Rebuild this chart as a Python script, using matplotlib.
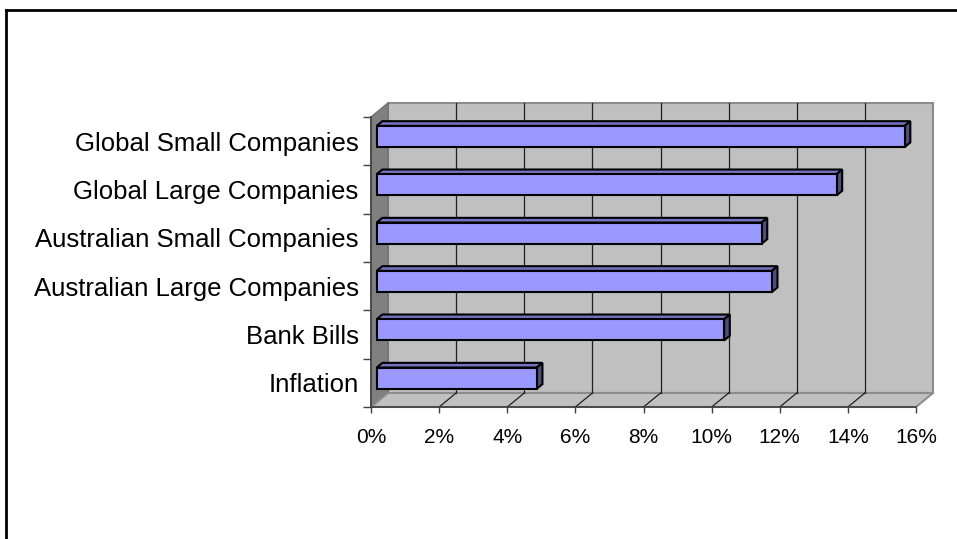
import matplotlib.pyplot as plt
from matplotlib.patches import Polygon
from matplotlib.lines import Line2D

plt.rcParams['font.family'] = ['Liberation Sans', 'DejaVu Sans']

# Данные (снизу вверх)
categories = ['Inflation', 'Bank Bills', 'Australian Large Companies',
              'Australian Small Companies', 'Global Large Companies',
              'Global Small Companies']
values = [4.7, 10.2, 11.6, 11.3, 13.5, 15.5]
x_ticks = [0, 2, 4, 6, 8, 10, 12, 14, 16]
x_tick_labels = ['%d%%' % t for t in x_ticks]

# Глубина псевдо-3D (в единицах данных)
DX, DY = 0.5, 0.29
f1, f2 = 1 / 3, 2 / 3
bar_h = 0.44

face_col = '#9999ff'
top_col = '#7373bf'
side_col = '#4d4d80'
wall_col = '#c0c0c0'
lwall_col = '#808080'

W, H = 957, 539
fig = plt.figure(figsize=(W / 100, H / 100), dpi=100)
ax = fig.add_axes([371 / W, (H - 407) / H, (916 - 371) / W, (407 - 117) / H])
ax.set_facecolor('none')

xmax = x_ticks[-1]
y0, y1 = -0.5, len(categories) - 0.5
ax.set_xlim(0, xmax)
ax.set_ylim(y0, y1)

# Задняя стенка
ax.add_patch(Polygon([(DX, y0 + DY), (xmax + DX, y0 + DY), (xmax + DX, y1 + DY), (DX, y1 + DY)],
                     closed=True, facecolor=wall_col, edgecolor='#8c8c8c', lw=1.5,
                     clip_on=False, zorder=0))
# Левая стенка
ax.add_patch(Polygon([(0, y0), (0, y1), (DX, y1 + DY), (DX, y0 + DY)],
                     closed=True, facecolor=lwall_col, edgecolor='#707070', lw=1,
                     clip_on=False, zorder=1))
# Пол
ax.add_patch(Polygon([(0, y0), (xmax, y0), (xmax + DX, y0 + DY), (DX, y0 + DY)],
                     closed=True, facecolor=wall_col, edgecolor='#8c8c8c', lw=1.5,
                     clip_on=False, zorder=1))

# Сетка на стенке и на полу
for t in x_ticks[1:-1]:
    ax.plot([t + DX, t + DX], [y0 + DY, y1 + DY], color='#202020', lw=0.9,
            clip_on=False, zorder=2)
    ax.plot([t, t + DX], [y0, y0 + DY], color='#202020', lw=0.9,
            clip_on=False, zorder=2)

# Столбцы
for i, v in enumerate(values):
    b = i - bar_h / 2 + f1 * DY
    tp = i + bar_h / 2 + f1 * DY
    x0 = f1 * DX
    xe = v + f1 * DX
    d_x = (f2 - f1) * DX
    d_y = (f2 - f1) * DY
    ax.add_patch(Polygon([(x0, tp), (xe, tp), (xe + d_x, tp + d_y), (x0 + d_x, tp + d_y)],
                         closed=True, facecolor=top_col, edgecolor='black', lw=1.5,
                         clip_on=False, zorder=3))
    ax.add_patch(Polygon([(xe, b), (xe, tp), (xe + d_x, tp + d_y), (xe + d_x, b + d_y)],
                         closed=True, facecolor=side_col, edgecolor='black', lw=1.5,
                         clip_on=False, zorder=3))
    ax.add_patch(Polygon([(x0, b), (xe, b), (xe, tp), (x0, tp)],
                         closed=True, facecolor=face_col, edgecolor='black', lw=1.5,
                         clip_on=False, zorder=4))

# Оси
for s in ['top', 'right']:
    ax.spines[s].set_visible(False)
for s in ['left', 'bottom']:
    ax.spines[s].set_color('#404040')
    ax.spines[s].set_linewidth(1.2)
    ax.spines[s].set_zorder(5)

ax.set_xticks(x_ticks)
ax.set_xticklabels(x_tick_labels, fontsize=15)
ax.tick_params(axis='x', direction='out', length=4, width=1, color='#404040', pad=11)

ax.set_yticks([k - 0.5 for k in range(len(categories) + 1)])
ax.set_yticklabels([])
ax.set_yticks(range(len(categories)), minor=True)
ax.set_yticklabels(categories, minor=True, fontsize=18.5)
ax.tick_params(axis='y', which='major', direction='out', length=6, width=1, color='#404040')
ax.tick_params(axis='y', which='minor', length=0, pad=9)

# Рамка (видна только сверху и слева)
fig.add_artist(Line2D([6 / W, 1], [1 - 10 / H, 1 - 10 / H], color='black', lw=2,
                      transform=fig.transFigure))
fig.add_artist(Line2D([6 / W, 6 / W], [0, 1 - 10 / H], color='black', lw=2,
                      transform=fig.transFigure))

fig.savefig('out.png', dpi=100)
